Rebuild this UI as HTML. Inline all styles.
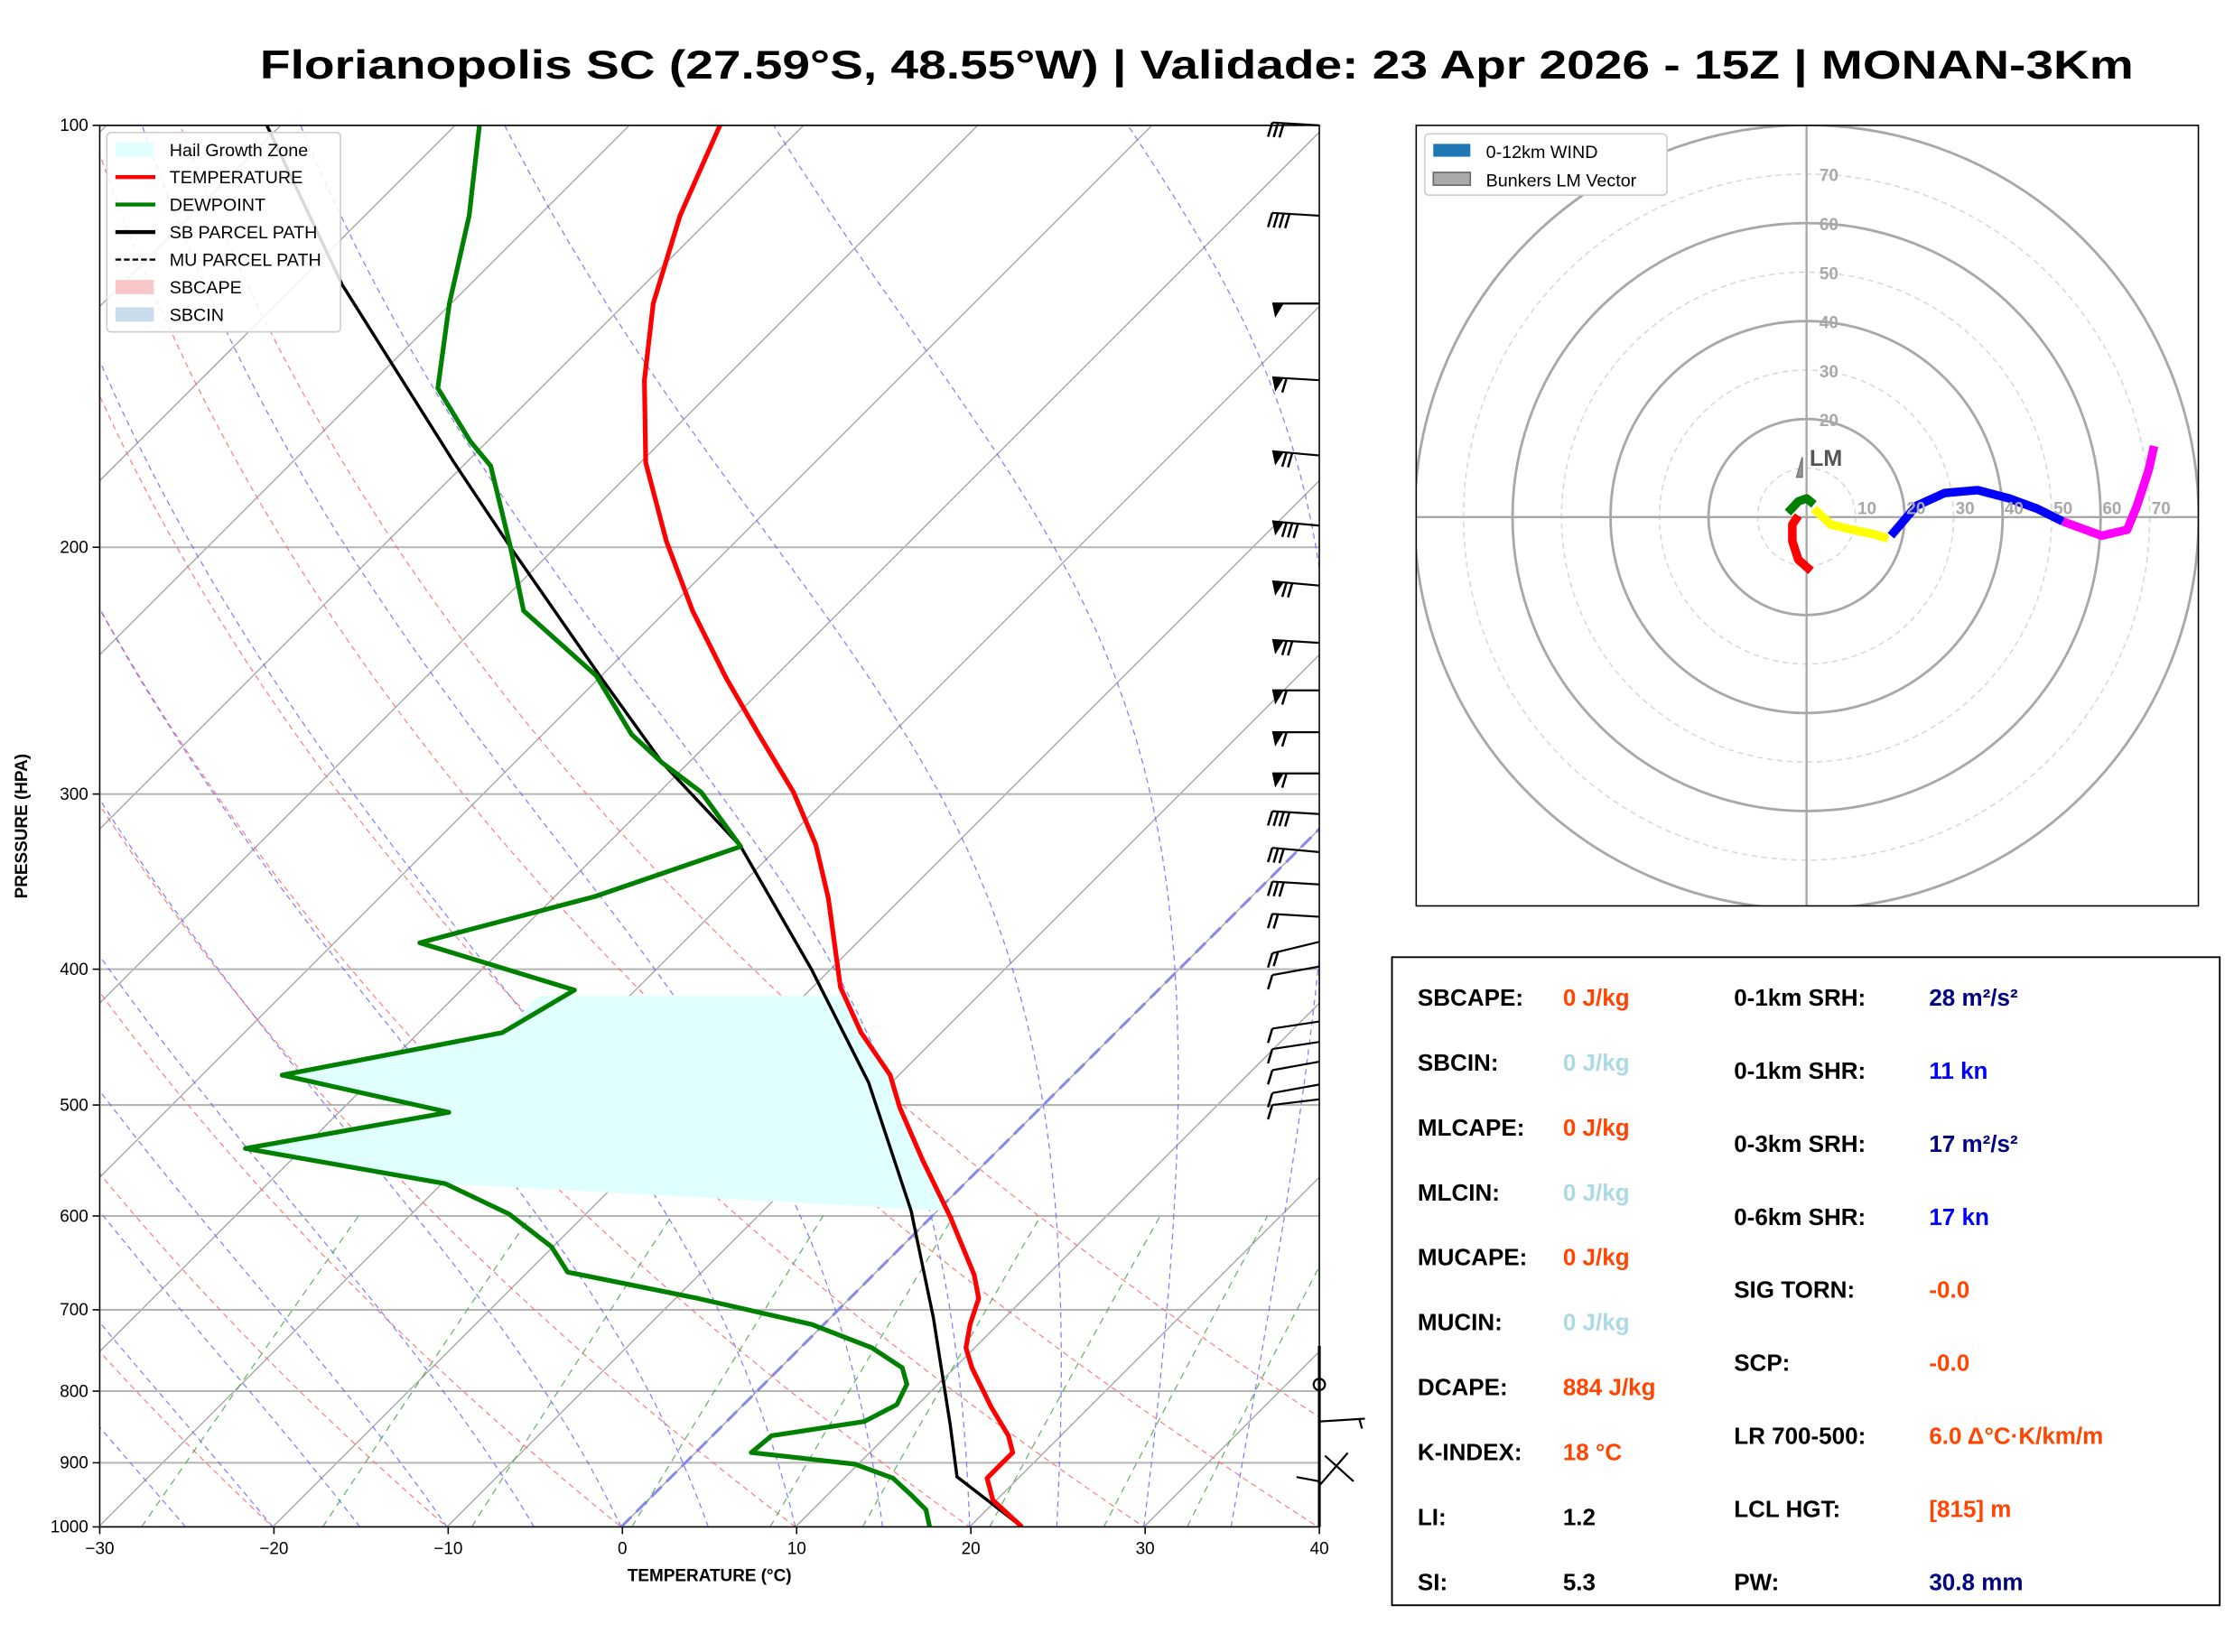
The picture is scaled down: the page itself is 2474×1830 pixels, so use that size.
<!DOCTYPE html>
<html><head><meta charset="utf-8"><style>
html,body{margin:0;padding:0;background:#fff;}
svg{display:block;font-family:"Liberation Sans","DejaVu Sans",sans-serif;}
</style></head><body>
<svg id="root" xmlns="http://www.w3.org/2000/svg" width="2474" height="1830" viewBox="0 0 1568 1159.8">
<defs><clipPath id="skc"><rect x="70" y="88" width="856" height="984"/></clipPath>
<clipPath id="hoc"><rect x="994" y="88" width="549" height="548"/></clipPath></defs>
<text x="840" y="55" text-anchor="middle" font-size="28" font-weight="bold" textLength="1315" lengthAdjust="spacingAndGlyphs">Florianopolis SC (27.59°S, 48.55°W) | Validade: 23 Apr 2026 - 15Z | MONAN-3Km</text>
<g id="skew"></g>
<g id="hodo"></g>
<g id="table"></g>
</svg>
<script>
// ---- Skew-T data ----
const tempP=[100,116,134,152,174,198,222,248,272,299,326,356,412,444,476,502,548,601,661,687,717,745,770,822,861,885,902,923,957,1000];
const tempT=[-74.8,-71.9,-68.4,-64.5,-59.7,-54.0,-48.5,-42.7,-37.6,-32.3,-28.0,-24.2,-18.4,-14.6,-10.5,-8.1,-3.7,1.1,5.8,7.4,8.4,9.5,11.0,14.4,17.0,18.2,18.2,18.2,19.8,23.0];
const dewP=[100,116,134,154,168,175,200,222,247,272,285,299,327,355,383,414,444,476,506,537,569,598,631,658,687,717,745,770,791,818,841,861,885,902,923,950,972,1000];
const dewT=[-88.6,-84.0,-80.1,-75.9,-71.0,-68.4,-62.6,-58.2,-50.3,-44.9,-41.5,-37.6,-32.2,-37.7,-45.1,-33.5,-35.2,-45.4,-33.7,-43.3,-29.8,-24.4,-20.1,-17.7,-8.7,-0.7,4.1,7.0,8.2,8.8,7.9,3.4,3.2,9.8,12.8,14.9,16.5,17.7];
const parcelP=[100,130,174,200,247,285,327,400,482,595,709,845,921,1000];
const parcelT=[-100.8,-87.3,-70.7,-62.6,-50.1,-41.5,-32.2,-21.1,-11.3,-1.5,5.9,13.0,16.4,23.0];
const hgzTop=418, hgzBottom=595;
const xTicks=[-30,-20,-10,0,10,20,30,40];
const pTicks=[100,200,300,400,500,600,700,800,900,1000];
const barbP=[100,116,134,152,172,193,213,234,253,271,290,310,330,348,367,386,402,440,455,470,488,500];
const barbFlags=[0,0,1,1,1,1,1,1,1,1,1,0,0,0,0,0,0,0,0,0,0,0];
const barbFull=[3,4,0,1,2,3,2,2,1,1,1,4,3,3,2,2,1,1,1,1,1,1];
const barbTilt=[-2,-2,0,-2,-3,-3,-3,-2,0,0,0,-2,-3,-2,-2,8,6,5,5,6,6,4];
// ---- Hodograph data (kt) ----
const hodoSegU=[[0.9,-1.7,-2.9,-2.9,-1.7],[-3.8,-1.7,0,1.5],[1.5,4.9,9.3,13.7,16.6],[17.2,22.4,28.2,34.9,41.3,47.1,52.3],[52.3,60.2,65.4,67.4,69.8,70.9]];
const hodoSegV=[[-11.0,-8.7,-4.9,-1.5,0.3],[0.9,3.2,3.8,2.6],[1.7,-1.5,-2.6,-3.5,-4.4],[-3.8,2.3,4.9,5.5,3.8,1.7,-0.9],[-0.9,-3.8,-2.6,2.3,9.6,14.5]];
const hodoColors=['red','green','yellow','blue','magenta'];
const ringVals=[10,20,30,40,50,60,70,80];
// ---- Table ----
const leftLabels=['SBCAPE:','SBCIN:','MLCAPE:','MLCIN:','MUCAPE:','MUCIN:','DCAPE:','K-INDEX:','LI:','SI:'];
const leftVals=['0 J/kg','0 J/kg','0 J/kg','0 J/kg','0 J/kg','0 J/kg','884 J/kg','18 °C','1.2','5.3'];
const leftCols=['#ff4500','#add8e6','#ff4500','#add8e6','#ff4500','#add8e6','#ff4500','#ff4500','#000','#000'];
const rightLabels=['0-1km SRH:','0-1km SHR:','0-3km SRH:','0-6km SHR:','SIG TORN:','SCP:','LR 700-500:','LCL HGT:','PW:'];
const rightVals=['28 m²/s²','11 kn','17 m²/s²','17 kn','-0.0','-0.0','6.0 Δ°C·K/km/m','[815] m','30.8 mm'];
const rightCols=['#000080','#0000ff','#000080','#0000ff','#ff4500','#ff4500','#ff4500','#ff4500','#000080'];

const NS='http://www.w3.org/2000/svg';
function mk(parent,tag,attrs,text){const e=document.createElementNS(NS,tag);for(const k in attrs)e.setAttribute(k,attrs[k]);if(text!==undefined)e.textContent=text;parent.appendChild(e);return e;}
function yP(p){return 1072-984*Math.log10(1000/p);}
function xT(T,p){return 436+T*12.229+(1072-yP(p));}
function pathOf(Ts,Ps){return Ts.map((t,i)=>(i?'L':'M')+xT(t,Ps[i]).toFixed(1)+','+yP(Ps[i]).toFixed(1)).join('');}

const sk=document.getElementById('skew');
const cl=mk(sk,'g',{'clip-path':'url(#skc)'});


for(let T=-140;T<=40;T+=10){const l=mk(cl,'line',{x1:xT(T,1050),y1:yP(1050),x2:xT(T,100),y2:yP(100),stroke:'#a8a8a8','stroke-width':0.9});
}
pTicks.forEach(p=>{const l=mk(cl,'line',{x1:70,x2:926,y1:yP(p),y2:yP(p),stroke:'#b4b4b4','stroke-width':1.3});
});
const pl=[];for(let p=1050;p>=99;p-=5)pl.push(p);
for(let t0=-30;t0<=50;t0+=10){const th=t0+273.15;const d=pl.map((p,i)=>(i?'L':'M')+xT(th*Math.pow(p/1000,0.2857)-273.15,p).toFixed(1)+','+yP(p).toFixed(1)).join('');
const e=mk(cl,'path',{d:d,fill:'none',stroke:'#ff6060','stroke-width':0.8,'stroke-dasharray':'4 3',opacity:0.8});
}
function es(tc){return 6.112*Math.exp(17.67*tc/(tc+243.5));}
for(let t0=-30;t0<=45;t0+=5){let T=t0+273.15;let d='';
for(let p=1000;p>=100;p-=2){d+=(d?'L':'M')+xT(T-273.15,p).toFixed(1)+','+yP(p).toFixed(1);
const e=es(T-273.15),rs=0.622*e/(p-e),L=2.501e6,Rd=287,cp=1005;
const dTdp=(Rd*T+L*rs)/(cp+L*L*rs*0.622/(Rd*T*T))/p;T-=dTdp*2;}
const e=mk(cl,'path',{d:d,fill:'none',stroke:'#6060ff','stroke-width':0.8,'stroke-dasharray':'4 3',opacity:0.8});
}
[0.0004,0.001,0.002,0.004,0.007,0.01,0.016,0.024,0.032].forEach(w=>{let d='';for(let p=1000;p>=600;p-=10){const e=w*p/(0.622+w),l=Math.log(e/6.112),td=243.5*l/(17.67-l);d+=(d?'L':'M')+xT(td,p).toFixed(1)+','+yP(p).toFixed(1);}
const e=mk(cl,'path',{d:d,fill:'none',stroke:'#40a040','stroke-width':0.8,'stroke-dasharray':'5 4',opacity:0.8});
});
const fz=mk(cl,'line',{x1:xT(0,1000),y1:yP(1000),x2:xT(0,100),y2:yP(100),stroke:'#7a7aee','stroke-width':2,'stroke-dasharray':'10 5',opacity:0.8});

(function(){const pts=[];
const dInd=dewP.map((p,i)=>i).filter(i=>dewP[i]>=hgzTop&&dewP[i]<=560);
pts.push([xT(dewT[dInd[0]],hgzTop),yP(hgzTop)]);
dInd.forEach(i=>pts.push([xT(dewT[i],dewP[i]),yP(dewP[i])]));
pts.push([xT(-29.8,569),yP(569)]);
const tb=tempT[17]+(tempT[16]-tempT[17])*0.1;pts.push([xT(tb,hgzBottom),yP(hgzBottom)]);
for(let i=tempP.length-1;i>=0;i--){if(tempP[i]<hgzBottom&&tempP[i]>hgzTop)pts.push([xT(tempT[i],tempP[i]),yP(tempP[i])]);}
pts.push([xT(-17.5,hgzTop),yP(hgzTop)]);
const e=mk(cl,'polygon',{points:pts.map(q=>q[0].toFixed(1)+','+q[1].toFixed(1)).join(' '),fill:'#e0ffff'});
})();
const pp=mk(cl,'path',{d:pathOf(parcelT,parcelP),fill:'none',stroke:'#000','stroke-width':2.2});

const tl=mk(cl,'path',{d:pathOf(tempT,tempP),fill:'none',stroke:'#ff0000','stroke-width':3.3,'stroke-linejoin':'round'});

const dl=mk(cl,'path',{d:pathOf(dewT,dewP),fill:'none',stroke:'#008000','stroke-width':3.3,'stroke-linejoin':'round'});

const fr=mk(sk,'rect',{x:70,y:88,width:856,height:984,fill:'none',stroke:'#000','stroke-width':1});

xTicks.forEach(t=>{const x=70+(t+30)*12.229;mk(sk,'line',{x1:x,x2:x,y1:1072,y2:1077,stroke:'#000'});
const e=mk(sk,'text',{x:x,y:1091,'text-anchor':'middle','font-size':12},(t<0?'\u2212':'')+Math.abs(t));
});
pTicks.forEach(p=>{const y=yP(p);mk(sk,'line',{x1:65,x2:70,y1:y,y2:y,stroke:'#000'});
const e=mk(sk,'text',{x:62,y:y+4,'text-anchor':'end','font-size':12},p);
});
const xl=mk(sk,'text',{x:498,y:1110,'text-anchor':'middle','font-size':12,'font-weight':'bold'},'TEMPERATURE (°C)');

const yl=mk(sk,'text',{x:0,y:0,'text-anchor':'middle','font-size':12,'font-weight':'bold',transform:'translate(19,580) rotate(-90)'},'PRESSURE (HPA)');

barbP.forEach((p,i)=>{const g=mk(sk,'g',{});

const y0=yP(p)+(i>=15?-4:0);const tx=893,ty=y0+barbTilt[i];
mk(g,'line',{x1:926,y1:y0,x2:tx,y2:ty,stroke:'#000','stroke-width':1.4});
let pos=0;const dx=(926-tx)/33,dy=(y0-ty)/33;
for(let f=0;f<barbFlags[i];f++){mk(g,'polygon',{points:`${tx},${ty} ${tx+8*dx},${ty+8*dy} ${tx+2},${ty+10}`,fill:'#000'});pos+=10;}
for(let b=0;b<barbFull[i];b++){const bx=tx+pos*dx,by=ty+pos*dy;mk(g,'line',{x1:bx,y1:by,x2:bx-3,y2:by+10,stroke:'#000','stroke-width':1.6});pos+=4;}});
mk(sk,'circle',{cx:926,cy:972,r:4,fill:'none',stroke:'#000','stroke-width':1.4});
mk(sk,'line',{x1:926,y1:945,x2:926,y2:1072,stroke:'#000','stroke-width':2});
mk(sk,'line',{x1:926,y1:998,x2:958,y2:996,stroke:'#000','stroke-width':1.4});
mk(sk,'line',{x1:954,y1:996,x2:956,y2:1003,stroke:'#000','stroke-width':1.4});
mk(sk,'line',{x1:926,y1:1043,x2:946,y2:1020,stroke:'#000','stroke-width':1.4});
mk(sk,'line',{x1:930,y1:1022,x2:950,y2:1040,stroke:'#000','stroke-width':1.4});
mk(sk,'line',{x1:910,y1:1037,x2:926,y2:1040,stroke:'#000','stroke-width':1.4});
(function(){const g=mk(sk,'g',{});
mk(g,'rect',{x:75,y:93,width:164,height:140,rx:3,fill:'#fff',stroke:'#ccc','fill-opacity':0.85});
const items=[['Hail Growth Zone','rect','#e0ffff'],['TEMPERATURE','line','#ff0000'],['DEWPOINT','line','#008000'],['SB PARCEL PATH','line','#000'],['MU PARCEL PATH','dash','#000'],['SBCAPE','rect','#f8c8c8'],['SBCIN','rect','#c8dcec']];
items.forEach((it,i)=>{const y=105+i*19.3;
if(it[1]=='rect')mk(g,'rect',{x:81,y:y-5,width:27,height:10,fill:it[2]});
else mk(g,'line',{x1:81,x2:109,y1:y,y2:y,stroke:it[2],'stroke-width':it[1]=='dash'?1.5:2.8,'stroke-dasharray':it[1]=='dash'?'4 2':'none'});
const e=mk(g,'text',{x:119,y:y+4.5,'font-size':12.5},it[0]);});})();

const ho=document.getElementById('hodo');const cx=1268,cy=363,k=3.44;
const hc=mk(ho,'g',{'clip-path':'url(#hoc)'});
ringVals.forEach(v=>{const e=mk(hc,'circle',{cx:cx,cy:cy,r:v*k,fill:'none',stroke:v%20?'#d8d8d8':'#a8a8a8','stroke-width':v%20?1:1.8,'stroke-dasharray':v%20?'4 3':'none'});
});
mk(hc,'line',{x1:994,x2:1543,y1:cy,y2:cy,stroke:'#a8a8a8','stroke-width':1.5});
mk(hc,'line',{x1:cx,x2:cx,y1:88,y2:636,stroke:'#a8a8a8','stroke-width':1.5});
ringVals.slice(0,7).forEach(v=>{const a=mk(ho,'text',{x:cx+v*k+8,y:cy-2,'font-size':12,'font-weight':'bold',fill:'#a8a8a8','text-anchor':'middle'},v);

if(v>=20){const b=mk(ho,'text',{x:cx+9,y:cy-v*k+5,'font-size':12,'font-weight':'bold',fill:'#a8a8a8'},v);
}});
hodoSegU.forEach((us,s)=>{const d=us.map((u,i)=>(i?'L':'M')+(cx+u*k).toFixed(1)+','+(cy-hodoSegV[s][i]*k).toFixed(1)).join('');
const e=mk(hc,'path',{d:d,fill:'none',stroke:hodoColors[s],'stroke-width':6,'stroke-linejoin':'round'});
});
const lm=mk(ho,'polygon',{points:`${cx-3},${cy-28} ${cx-7},${cy-28} ${cx-3},${cy-42}`,fill:'#999',stroke:'#777'});

const lt=mk(ho,'text',{x:cx+2,y:cy-36,'font-size':16,'font-weight':'bold',fill:'#555'},'LM');

mk(ho,'rect',{x:994,y:88,width:549,height:548,fill:'none',stroke:'#000','stroke-width':1});
(function(){const g=mk(ho,'g',{});
mk(g,'rect',{x:1000,y:94,width:170,height:43,rx:3,fill:'#fff',stroke:'#ccc'});
mk(g,'rect',{x:1006,y:101,width:26,height:9,fill:'#1f77b4'});
mk(g,'rect',{x:1006,y:121,width:26,height:9,fill:'#aaa',stroke:'#666'});
const a=mk(g,'text',{x:1043,y:111,'font-size':12.5},'0-12km WIND');
const b=mk(g,'text',{x:1043,y:131,'font-size':12.5},'Bunkers LM Vector');})();

const tb=document.getElementById('table');
mk(tb,'rect',{x:977,y:672,width:581,height:455,fill:'#fff',stroke:'#000','stroke-width':1.2});
leftLabels.forEach((l,i)=>{const y=706+i*45.6;
const a=mk(tb,'text',{x:995,y:y,'font-size':16.5,'font-weight':'bold'},l);
const b=mk(tb,'text',{x:1097,y:y,'font-size':16.5,'font-weight':'bold',fill:leftCols[i]},leftVals[i]);});
rightLabels.forEach((l,i)=>{const y=706+i*51.3;
const a=mk(tb,'text',{x:1217,y:y,'font-size':16.5,'font-weight':'bold'},l);
const b=mk(tb,'text',{x:1354,y:y,'font-size':16.5,'font-weight':'bold',fill:rightCols[i]},rightVals[i]);});
</script>
</body></html>
